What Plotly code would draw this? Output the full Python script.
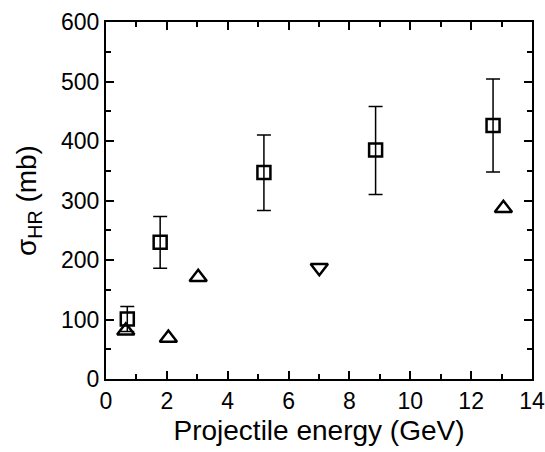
import plotly.graph_objects as go

sq_x = [0.70, 1.78, 5.19, 8.86, 12.72]
sq_y = [101, 230, 347, 385, 426]
sq_hi = [122, 273, 410, 458, 504]
sq_lo = [80, 186, 283, 310, 348]

tri_x = [0.65, 2.05, 3.03, 13.06]
tri_y = [81, 69, 171, 287]

tdn_x = [7.01]
tdn_y = [187]

err_plus = [h - y for h, y in zip(sq_hi, sq_y)]
err_minus = [y - l for l, y in zip(sq_lo, sq_y)]

fig = go.Figure()
fig.add_trace(go.Scatter(
    x=sq_x, y=sq_y, mode="markers",
    marker=dict(symbol="square-open", size=13, color="black", line=dict(width=2.5)),
    error_y=dict(type="data", array=err_plus, arrayminus=err_minus,
                 color="black", thickness=1.5, width=7),
))
fig.add_trace(go.Scatter(
    x=tri_x, y=tri_y, mode="markers",
    marker=dict(symbol="triangle-up-open", size=15, color="black", line=dict(width=2.5)),
))
fig.add_trace(go.Scatter(
    x=tdn_x, y=tdn_y, mode="markers",
    marker=dict(symbol="triangle-down-open", size=15, color="black", line=dict(width=2.5)),
))

tfont = dict(family="Liberation Sans, Arial, sans-serif", size=23, color="black")
afont = dict(family="Liberation Sans, Arial, sans-serif", size=28, color="black")
fig.update_layout(
    width=545, height=452,
    margin=dict(l=106, r=13, t=22, b=73, autoexpand=False),
    paper_bgcolor="white", plot_bgcolor="white",
    showlegend=False,
    font=tfont,
)
fig.update_xaxes(
    range=[0, 14], tickvals=[0, 2, 4, 6, 8, 10, 12, 14],
    ticks="inside", ticklen=8, tickwidth=1.5, tickcolor="black",
    minor=dict(dtick=1, ticks="inside", ticklen=5, tickcolor="black", tickwidth=1.5),
    showline=True, linecolor="black", linewidth=2, mirror="ticks",
    showgrid=False, zeroline=False, automargin=False,
    ticklabeloverflow="allow",
    title=dict(text="Projectile energy (GeV)", font=afont, standoff=8),
    tickfont=tfont,
)
fig.update_yaxes(
    range=[0, 600], tickvals=[0, 100, 200, 300, 400, 500, 600],
    ticks="inside", ticklen=8, tickwidth=1.5, tickcolor="black",
    minor=dict(dtick=50, ticks="inside", ticklen=5, tickcolor="black", tickwidth=1.5),
    showline=True, linecolor="black", linewidth=2, mirror="ticks",
    showgrid=False, zeroline=False, automargin=False,
    ticklabeloverflow="allow",
    title=dict(text="σ<sub>HR</sub> (mb)", font=afont, standoff=16),
    tickfont=tfont,
)
fig.write_html("out.html")
